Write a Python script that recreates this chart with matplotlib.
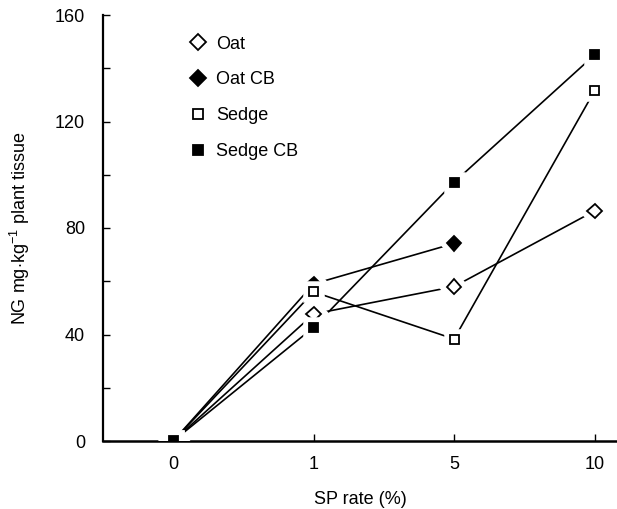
import numpy as np
import matplotlib.pyplot as plt
import matplotlib
from matplotlib.lines import Line2D
import matplotlib.patheffects as pe

matplotlib.rcParams['font.family'] = ['Liberation Sans', 'DejaVu Sans']
matplotlib.rcParams['mathtext.fontset'] = 'custom'
matplotlib.rcParams['mathtext.rm'] = 'Liberation Sans'

# ---- data ----
sp_rate = ['0', '1', '5', '10']
oat = [0, 47.7, 58.0, 86.4]
oat_cb = [0, 59.0, 74.2]
sedge = [0, 56.0, 38.3, 131.5]
sedge_cb = [0, 42.7, 97.2, 145.0]

series = [
    ('Oat', oat, 'D', 'white', 7.5),
    ('Oat CB', oat_cb, 'D', 'black', 7.5),
    ('Sedge', sedge, 's', 'white', 6.5),
    ('Sedge CB', sedge_cb, 's', 'black', 6.5),
]

FS = 13

fig = plt.figure(figsize=(6.17, 5.09), dpi=100)
ax = fig.add_axes([103/617, 68/509, 514/617, 426/509])

halo = [pe.withStroke(linewidth=9, foreground='white')]
handles = []
for name, vals, mk, fc, ms in series:
    x = np.arange(len(vals))
    ax.plot(x, vals, color='black', lw=1.2, zorder=2)
    ax.plot(x, vals, ls='none', marker=mk, ms=ms, mfc=fc, mec='black',
            mew=1.3, zorder=3, path_effects=halo)
    handles.append(Line2D([], [], ls='none', marker=mk, ms=ms + 1, mfc=fc,
                          mec='black', mew=1.3, label=name))

ax.set_xlim(-0.5, 3.16)
ax.set_ylim(0, 160)
ax.set_xticks(range(len(sp_rate)))
ax.set_xticklabels(sp_rate)
ax.set_yticks([0, 40, 80, 120, 160])
ax.set_yticks([20, 60, 100, 140], minor=True)
ax.tick_params(axis='both', which='both', direction='in', length=5, width=1,
               labelsize=FS, color='black')
ax.tick_params(axis='y', pad=13)
ax.tick_params(axis='x', pad=11)

for s in ['top', 'right']:
    ax.spines[s].set_visible(False)
ax.spines['left'].set_linewidth(1.6)
ax.spines['bottom'].set_linewidth(1.8)

ax.set_xlabel('SP rate (%)', fontsize=FS, labelpad=13)
ax.set_ylabel(r'NG mg$\cdot$kg$^{-1}$ plant tissue', fontsize=FS, labelpad=16)

ax.legend(handles=handles, loc='upper left', bbox_to_anchor=(0.136, 0.99),
          frameon=False, fontsize=FS, labelspacing=1.05, handletextpad=0.5,
          handlelength=1.0)

fig.savefig('out.png', dpi=100)
